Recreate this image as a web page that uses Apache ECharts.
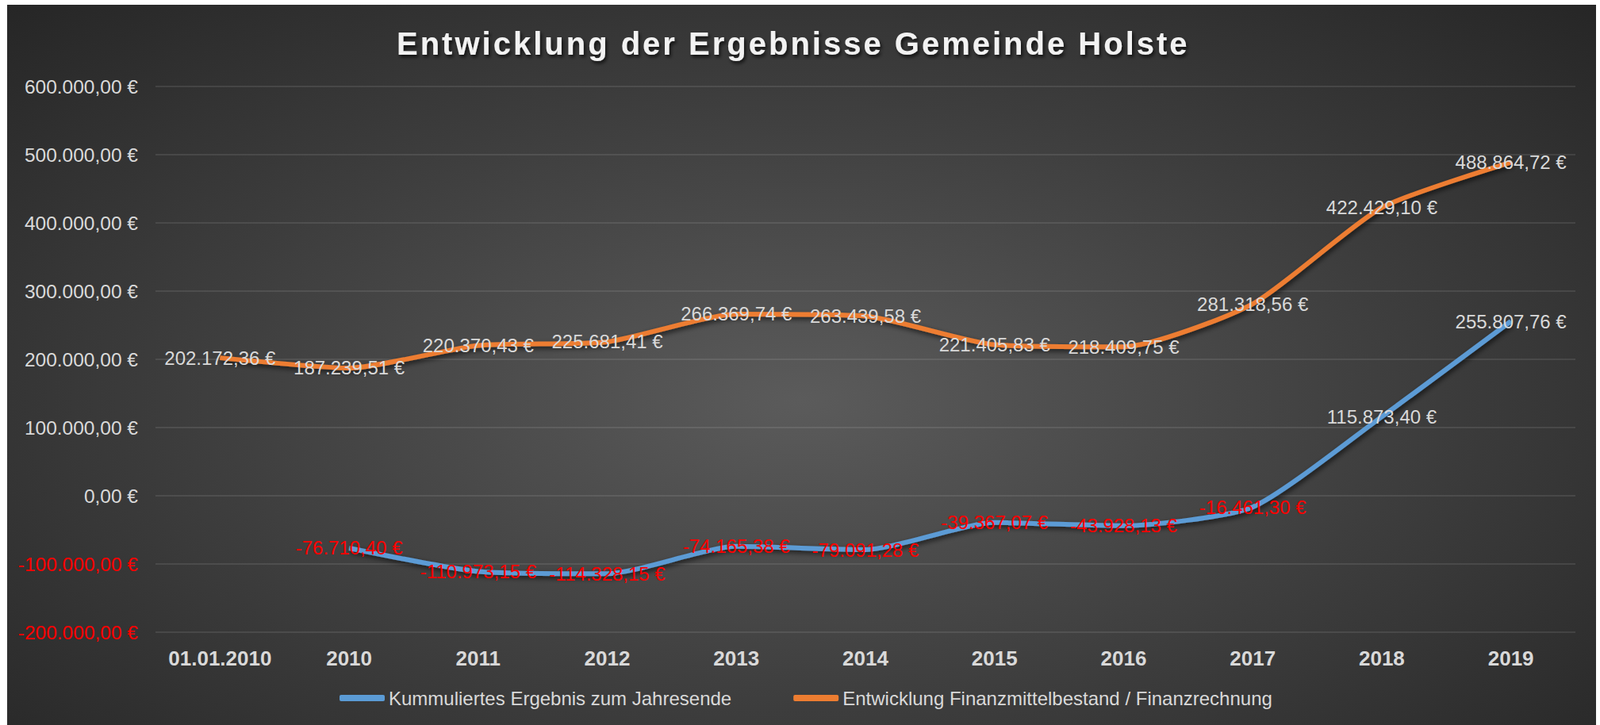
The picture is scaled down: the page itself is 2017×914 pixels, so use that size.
<!DOCTYPE html>
<html>
<head>
<meta charset="utf-8">
<script src="https://cdn.jsdelivr.net/npm/echarts@6/dist/echarts.min.js"></script>
<style>
  html, body { margin: 0; padding: 0; background: #ffffff; }
  #chart {
    position: absolute; left: 9px; top: 6px; width: 2003px; height: 908px;
    background: radial-gradient(ellipse at 50% 55%, #5b5b5b 0%, #3d3d3d 55%, #262626 100%);
  }
  /* title letter spacing (svg renderer) */
  #chart svg text[style*="40px"] { letter-spacing: 3px; }
</style>
</head>
<body>
<div id="chart"></div>
<script>
// Kategorien
var years = ['01.01.2010', '2010', '2011', '2012', '2013', '2014', '2015', '2016', '2017', '2018', '2019'];
// Kummuliertes Ergebnis zum Jahresende
var ergebnis = [null, -76710.40, -110973.15, -114328.15, -74165.38, -79091.28, -39367.07, -43928.13, -16461.30, 115873.40, 255807.76];
// Entwicklung Finanzmittelbestand / Finanzrechnung
var finanzmittel = [202172.36, 187239.51, 220370.43, 225681.41, 266369.74, 263439.58, 221405.83, 218409.75, 281318.56, 422429.10, 488864.72];
var seriesNames = ['Kummuliertes Ergebnis zum Jahresende', 'Entwicklung Finanzmittelbestand / Finanzrechnung'];

function euro(v) {
  var neg = v < 0;
  var parts = Math.abs(v).toFixed(2).split('.');
  var int = parts[0].replace(/\B(?=(\d{3})+(?!\d))/g, '.');
  return (neg ? '-' : '') + int + ',' + parts[1] + ' \u20ac';
}
function colored(v) {
  return v < 0 ? '{neg|' + euro(v) + '}' : '{pos|' + euro(v) + '}';
}

var txt = '#d9d9d9';
var font = '"Liberation Sans", Arial, sans-serif';
var rich = {
  pos: { color: txt, fontSize: 24, fontFamily: font },
  neg: { color: '#ff0000', fontSize: 24, fontFamily: font }
};
var axisRich = {
  pos: { color: txt, fontSize: 24.5, fontFamily: font },
  neg: { color: '#ff0000', fontSize: 24.5, fontFamily: font }
};

var chart = echarts.init(document.getElementById('chart'), null, { renderer: 'svg' });

var option = {
  backgroundColor: 'transparent',
  title: {
    text: 'Entwicklung der Ergebnisse Gemeinde Holste',
    left: 486,
    top: 24,
    textStyle: {
      color: '#f2f2f2',
      fontSize: 40,
      fontWeight: 'bold',
      fontFamily: font,
      textShadowColor: 'rgba(0,0,0,0.7)',
      textShadowBlur: 4,
      textShadowOffsetX: 2,
      textShadowOffsetY: 3
    }
  },
  legend: {
    data: seriesNames,
    left: 414,
    top: 857,
    itemWidth: 57,
    itemHeight: 8,
    itemGap: 78,
    icon: 'roundRect',
    textStyle: { color: txt, fontSize: 24, fontFamily: font }
  },
  grid: { left: 187, right: 26, top: 103, bottom: 117 },
  xAxis: {
    type: 'category',
    data: years,
    boundaryGap: true,
    axisLine: { show: false },
    axisTick: { show: false },
    axisLabel: {
      interval: 0,
      color: txt, fontSize: 26, fontWeight: 'bold', fontFamily: font, margin: 20
    }
  },
  yAxis: {
    type: 'value',
    min: -200000,
    max: 600000,
    interval: 100000,
    axisLine: { show: false },
    axisTick: { show: false },
    splitLine: { lineStyle: { color: 'rgba(255,255,255,0.13)', width: 1.5 } },
    axisLabel: {
      margin: 22,
      formatter: colored,
      rich: axisRich
    }
  },
  series: [
    {
      name: seriesNames[0],
      type: 'line',
      data: ergebnis,
      smooth: 0.2,
      symbol: 'circle',
      symbolSize: 1,
      itemStyle: { color: '#5b9bd5' },
      lineStyle: {
        width: 6, color: '#5b9bd5',
        shadowColor: 'rgba(0,0,0,0.65)', shadowBlur: 6, shadowOffsetX: 2, shadowOffsetY: 3
      },
      label: {
        show: true,
        position: 'inside',
        formatter: function (p) { return colored(p.value); },
        rich: rich
      }
    },
    {
      name: seriesNames[1],
      type: 'line',
      data: finanzmittel,
      smooth: 0.2,
      symbol: 'circle',
      symbolSize: 1,
      itemStyle: { color: '#ed7d31' },
      lineStyle: {
        width: 6, color: '#ed7d31',
        shadowColor: 'rgba(0,0,0,0.65)', shadowBlur: 6, shadowOffsetX: 2, shadowOffsetY: 3
      },
      label: {
        show: true,
        position: 'inside',
        formatter: function (p) { return colored(p.value); },
        rich: rich
      }
    }
  ]
};

chart.setOption(option);
</script>
</body>
</html>
